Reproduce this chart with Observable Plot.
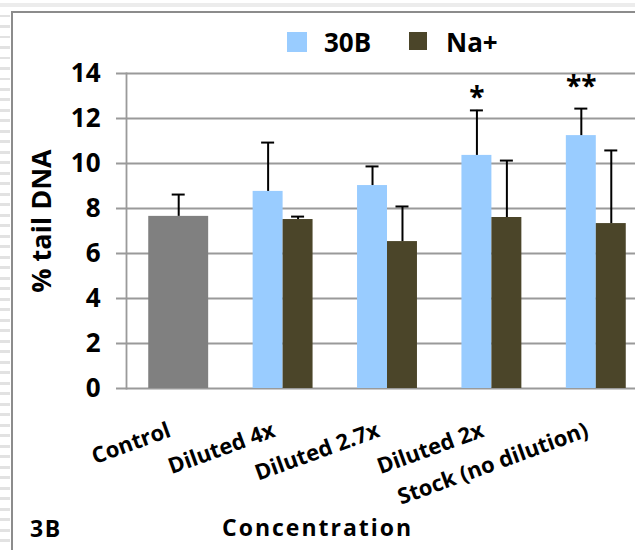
<!DOCTYPE html>
<html><head><meta charset="utf-8">
<script src="https://cdn.jsdelivr.net/npm/d3@7"></script>
<script src="https://cdn.jsdelivr.net/npm/@observablehq/plot@0.6"></script>
<style>
html,body{margin:0;padding:0;background:#fff;}
body{position:relative;width:635px;height:550px;overflow:hidden;font-family:"Open Sans",sans-serif;color:#000;}
#stripes{position:absolute;left:0;top:0;width:10px;height:550px;background:repeating-linear-gradient(to bottom,#fff 0px,#fff 4px,#e2e2e2 4px,#e2e2e2 7px,#fff 7px,#fff 10.5px);}
#topband{position:absolute;left:0;top:3px;width:635px;height:4px;background:#ececec;}
#frame{position:absolute;left:11px;top:11px;width:700px;height:600px;border-left:2px solid #8c8c8c;border-top:2px solid #8c8c8c;background:#fff;}
#chart{position:absolute;left:0;top:0;}
.lg{position:absolute;font-weight:700;font-size:26px;line-height:26px;white-space:nowrap;}
.sw{position:absolute;}
.ft{position:absolute;font-weight:700;white-space:nowrap;}
</style>
</head><body>
<div id="stripes"></div>
<div id="topband"></div>
<div id="frame"></div>
<div id="chart"></div>
<div id="legend"></div>
<div class="ft" style="left:30px;top:516.5px;font-size:23px;line-height:23px;letter-spacing:1.5px;">3B</div>
<div class="ft" style="left:222px;top:516px;font-size:23px;line-height:23px;letter-spacing:2px;">Concentration</div>
<script>
// ---- data ----
const categories = ["Control", "Diluted 4x", "Diluted 2.7x", "Diluted 2x", "Stock (no dilution)"];
const seriesNames = ["30B", "Na+"];
const seriesColors = ["#99ccff", "#4b4529"];
const controlValue = 7.65;
const controlError = 0.97;
const values30B = [8.76, 9.02, 10.36, 11.24];
const errors30B = [2.17, 0.85, 2.0, 1.2];
const valuesNa = [7.51, 6.53, 7.6, 7.33];
const errorsNa = [0.13, 1.56, 2.53, 3.25];
const yTicks = [0, 2, 4, 6, 8, 10, 12, 14];
const sigCategories = ["Diluted 2x", "Stock (no dilution)"];
const sigLabels = ["*", "**"];

// ---- tables ----
const treated = categories.slice(1);
const controlRows = [{category: categories[0], value: controlValue, err: controlError}];
const rows30B = treated.map((c, i) => ({category: c, value: values30B[i], err: errors30B[i]}));
const rowsNa = treated.map((c, i) => ({category: c, value: valuesNa[i], err: errorsNa[i]}));
const sigRows = sigCategories.map((c, i) => ({...rows30B.find(r => r.category === c), label: sigLabels[i]}));

// ---- layout ----
const W = 662, H = 470, ML = 126, MR = 14, MT = 73, MB = 82;
const padInner = 0.426, padOuter = 0.213;
const step = (W - ML - MR) / (categories.length - padInner + 2 * padOuter);
const bw = step * (1 - padInner);
const half = bw / 2;
const capW = 13;
const errTop = d => d.value + d.err;

const chart = Plot.plot({
  width: W, height: H,
  marginLeft: ML, marginRight: MR, marginTop: MT, marginBottom: MB,
  style: "font-family:'Open Sans',sans-serif;background:none;max-width:none;overflow:visible;",
  x: {type: "band", domain: categories, paddingInner: padInner, paddingOuter: padOuter, round: false, axis: null},
  y: {domain: [0, 14], axis: null},
  marks: [
    Plot.ruleY(yTicks, {y: d => d, stroke: "#9a9a9a", strokeWidth: 1.8, insetLeft: -10}),
    Plot.frame({anchor: "left", stroke: "#9a9a9a", strokeWidth: 1.8}),
    Plot.barY(controlRows, {x: "category", y: "value", fill: "#808080"}),
    Plot.barY(rows30B, {x: "category", y: "value", fill: seriesColors[0], insetRight: half}),
    Plot.barY(rowsNa, {x: "category", y: "value", fill: seriesColors[1], insetLeft: half}),
    Plot.ruleX(controlRows, {x: "category", y1: "value", y2: errTop, stroke: "black", strokeWidth: 2}),
    Plot.tickY(controlRows, {x: "category", y: errTop, stroke: "black", strokeWidth: 2, insetLeft: (bw - capW) / 2, insetRight: (bw - capW) / 2}),
    Plot.ruleX(rows30B, {x: "category", y1: "value", y2: errTop, stroke: "black", strokeWidth: 2, dx: -half / 2}),
    Plot.tickY(rows30B, {x: "category", y: errTop, stroke: "black", strokeWidth: 2, insetLeft: (half - capW) / 2, insetRight: half + (half - capW) / 2}),
    Plot.ruleX(rowsNa, {x: "category", y1: "value", y2: errTop, stroke: "black", strokeWidth: 2, dx: half / 2}),
    Plot.tickY(rowsNa, {x: "category", y: errTop, stroke: "black", strokeWidth: 2, insetLeft: half + (half - capW) / 2, insetRight: (half - capW) / 2}),
    Plot.text(sigRows.slice(0, 1), {x: "category", y: errTop, text: "label", dx: -half / 2, dy: -3, lineAnchor: "bottom", fontSize: 28, fontWeight: "bold", fill: "black"}),
    Plot.text(sigRows.slice(1), {x: "category", y: errTop, text: "label", dx: -half / 2, dy: -13, lineAnchor: "bottom", fontSize: 28, fontWeight: "bold", fill: "black"}),
    Plot.axisY({ticks: yTicks, tickSize: 0, tickPadding: 26, fontSize: 26, fontWeight: "bold", fill: "black", label: null, tickFormat: d => String(d)}),
    Plot.axisX({tickRotate: -20, tickSize: 0, tickPadding: 41, dx: -9, fontSize: 22, fontWeight: "bold", fill: "black", label: null}),
    Plot.text(["% tail DNA"], {text: d => d, frameAnchor: "left", textAnchor: "middle", rotate: -90, dx: -84, dy: -10, fontSize: 27, fontWeight: "bold", fill: "black"})
  ]
});
document.getElementById("chart").appendChild(chart);

// ---- legend ----
const legend = document.getElementById("legend");
const swX = [287, 409], txtX = [324, 446], swSize = [20, 18];
seriesNames.forEach((name, i) => {
  const sw = document.createElement("div");
  sw.className = "sw";
  sw.style.cssText = `left:${swX[i]}px;top:32px;width:${swSize[i]}px;height:${swSize[i]}px;background:${seriesColors[i]};`;
  legend.appendChild(sw);
  const t = document.createElement("div");
  t.className = "lg";
  t.style.cssText = `left:${txtX[i]}px;top:29px;`;
  t.textContent = name;
  legend.appendChild(t);
});
</script>
</body></html>
